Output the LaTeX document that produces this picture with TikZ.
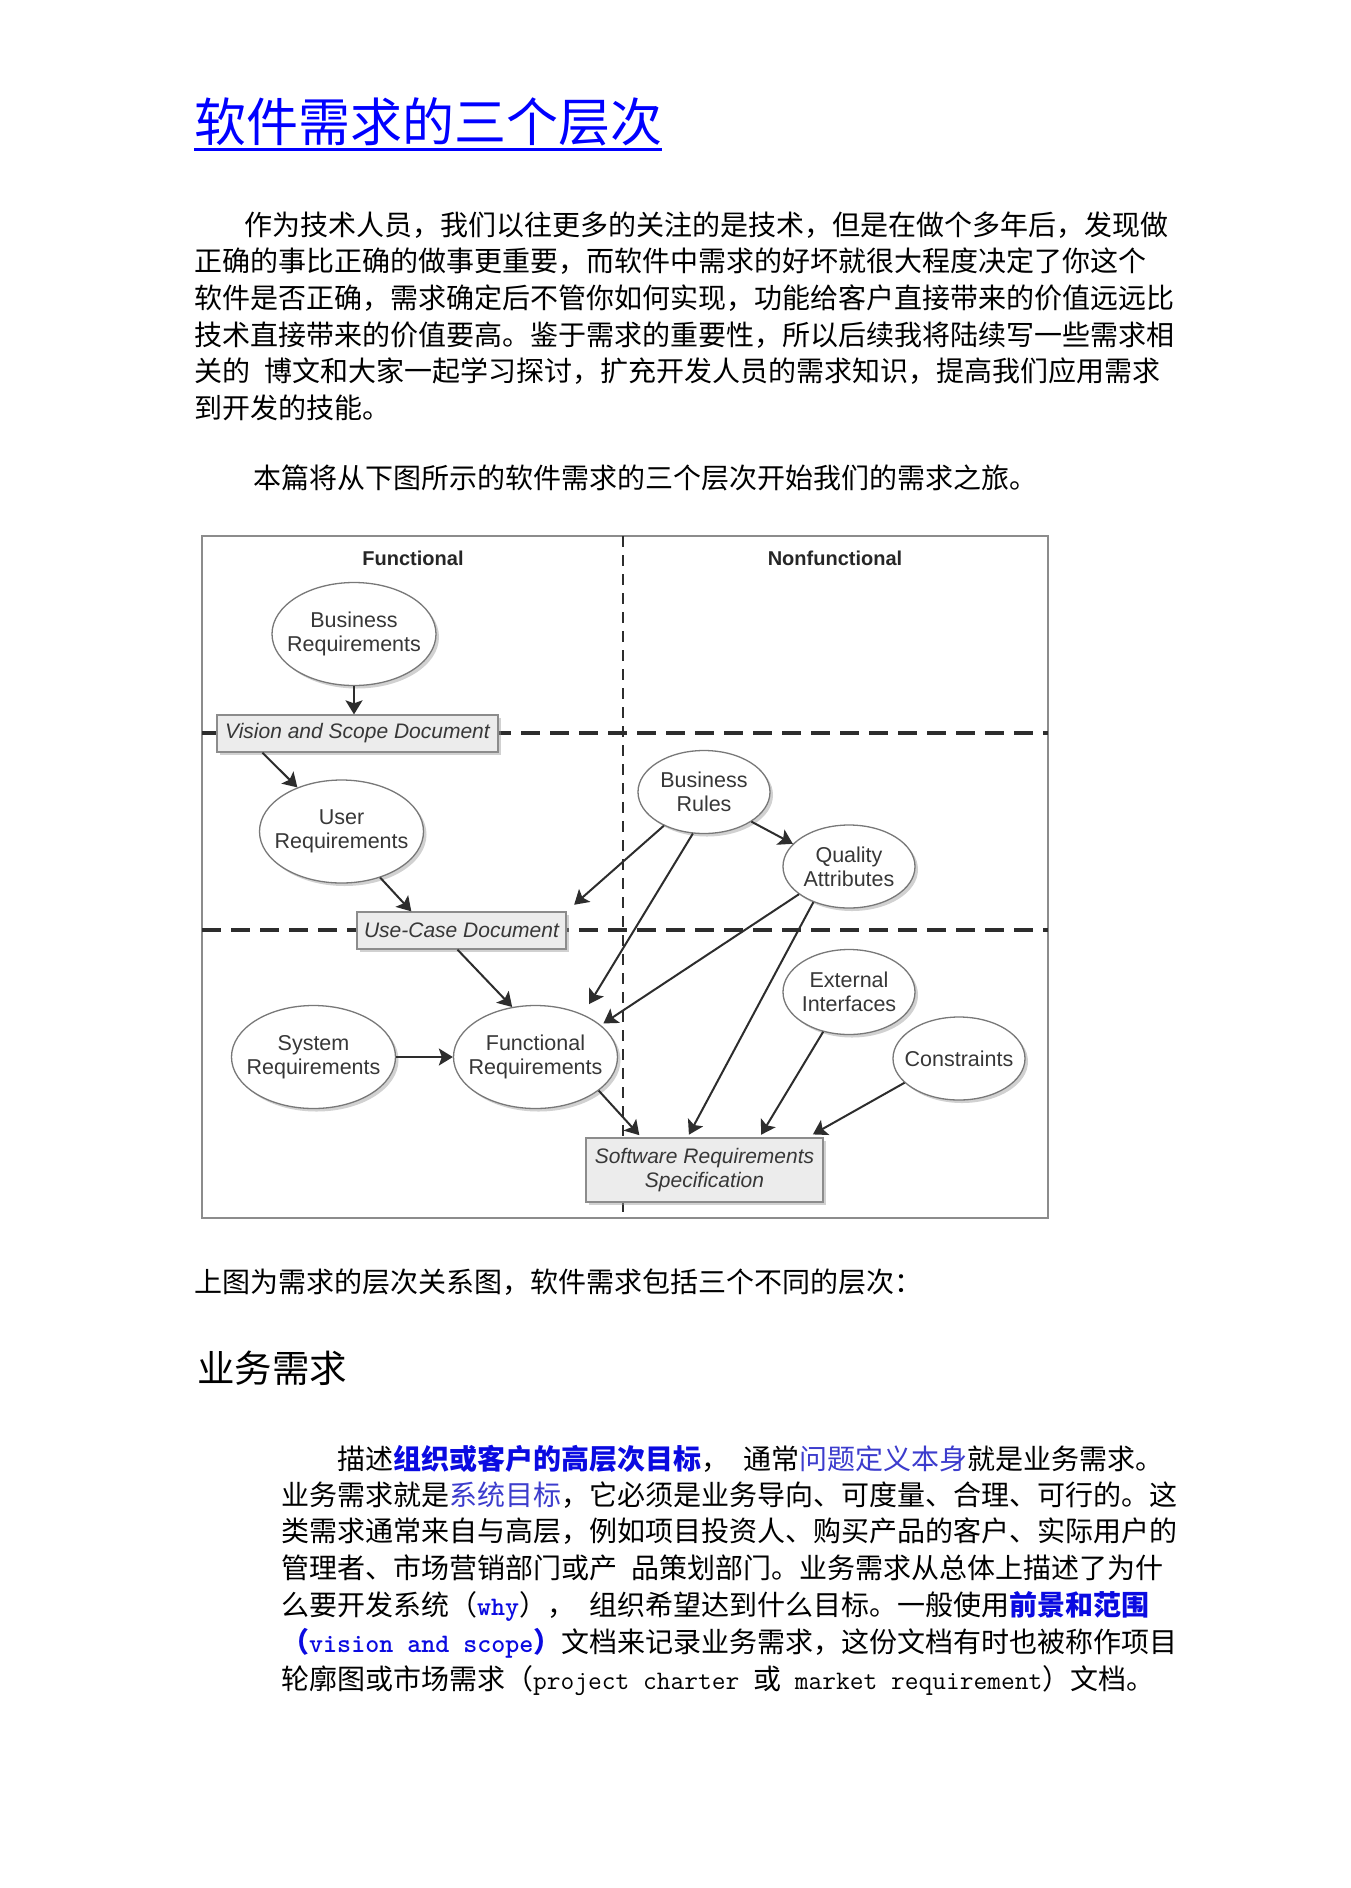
\documentclass[tikz,border=0pt]{standalone}
\usepackage{fontspec}
\usepackage{xcolor}
\usetikzlibrary{positioning,shapes.geometric,arrows.meta,shadows}
\newfontfamily\cjk{Noto Sans CJK SC}
\newfontfamily\diag{Liberation Sans}
\definecolor{titleblue}{RGB}{0,0,255}
\definecolor{linkblue}{RGB}{10,10,225}
\definecolor{softblue}{RGB}{60,60,205}
\definecolor{framegray}{RGB}{140,140,140}
\definecolor{ringgray}{RGB}{120,120,120}
\definecolor{inkgray}{RGB}{55,55,55}
\definecolor{boxfill}{RGB}{236,236,236}
\definecolor{dashgray}{RGB}{45,45,45}
\newcommand\lnk[1]{{\color{linkblue}\bfseries #1}}
\newcommand\lnksoft[1]{{\color{softblue}#1}}
\newcommand\mono[1]{{\ttfamily\fontsize{26.7}{36}\selectfont #1}}

\begin{document}
\begin{tikzpicture}[x=1pt,y=-1pt,
>={Stealth[length=14pt,width=17pt,inset=3pt]},
txt/.style={anchor=west,inner sep=0pt,text height=24.6pt,text depth=3.4pt,font=\cjk\fontsize{28}{36}\selectfont},
req/.style={ellipse,draw=ringgray,line width=1.3pt,fill=white,inner xsep=-15pt,inner ysep=0pt,align=center,
  text=inkgray,font=\diag\fontsize{21.5}{24}\selectfont,
  drop shadow={shadow xshift=3pt,shadow yshift=-3pt,fill=black!40,opacity=.45}},
bigreq/.style={req,minimum width=164pt,minimum height=103pt},
smallreq/.style={req,minimum width=132pt,minimum height=83pt},
doc/.style={rectangle,draw=framegray,line width=1.3pt,fill=boxfill,inner sep=0pt,align=center,
  text=inkgray,font=\diag\itshape\fontsize{21}{24}\selectfont,
  drop shadow={shadow xshift=3pt,shadow yshift=-3pt,fill=black!40,opacity=.45}},
side/.style={font=\diag\bfseries\fontsize{20}{24}\selectfont,text=black!85},
flow/.style={->,line width=2pt,draw=dashgray},
layer/.style={draw=dashgray,line width=4pt,dash pattern=on 19pt off 10pt},
split/.style={draw=dashgray,line width=1.5pt,dash pattern=on 11pt off 8pt}
]
\fill[white] (0,0) rectangle (1350,1888);
\useasboundingbox (0,0) rectangle (1350,1888);

% Title
\node[anchor=west,inner sep=0pt,text height=45.8pt,text depth=6.2pt,
  font=\cjk\fontsize{52}{60}\selectfont,text=titleblue] (title) at (194,122) {软件需求的三个层次};
\draw[titleblue,line width=3.5pt] ([yshift=-1.5pt]title.south west) -- ([yshift=-1.5pt]title.south east);

% Intro text
\node[txt] (p1) at (244,225) {作为技术人员，我们以往更多的关注的是技术，但是在做个多年后，发现做};
\node[txt] (p2) at (194,261) {正确的事比正确的做事更重要，而软件中需求的好坏就很大程度决定了你这个};
\node[txt] (p3) at (194,298) {软件是否正确，需求确定后不管你如何实现，功能给客户直接带来的价值远远比};
\node[txt] (p4) at (194,335) {技术直接带来的价值要高。鉴于需求的重要性，所以后续我将陆续写一些需求相};
\node[txt] (p5) at (194,371) {关的\hspace{14pt}博文和大家一起学习探讨，扩充开发人员的需求知识，提高我们应用需求};
\node[txt] (p6) at (194,408) {到开发的技能。};
\node[txt] (p7) at (253,478) {本篇将从下图所示的软件需求的三个层次开始我们的需求之旅。};

% Frame and layers
\draw[framegray,line width=2pt] (202,536) rectangle (1048,1218);
\draw[split] (623,536) -- (623,1218);
\draw[layer] (202,733) -- (1048,733);
\draw[layer] (202,930) -- (1048,930);
\node[side] (fun) at (413,558) {Functional};
\node[side] (nonfun) at (835,558) {Nonfunctional};

% Nodes
\node[bigreq] (BR) at (354,634) {Business\\Requirements};
\node[doc,minimum width=281pt,minimum height=37pt] (VSD) at (357.5,733.5) {Vision and Scope Document};
\node[bigreq] (UR) at (341.5,831.5) {User\\Requirements};
\node[doc,minimum width=209pt,minimum height=37pt] (UC) at (461.5,930.5) {Use-Case Document};
\node[smallreq] (BRules) at (704,792) {Business\\Rules};
\node[smallreq] (QA) at (849,866.5) {Quality\\Attributes};
\node[bigreq] (SysR) at (313.5,1057) {System\\Requirements};
\node[bigreq] (FR) at (535.5,1057) {Functional\\Requirements};
\node[smallreq,minimum height=85pt] (EI) at (849,992) {External\\Interfaces};
\node[smallreq] (Cons) at (959,1058.5) {Constraints};
\node[doc,minimum width=237pt,minimum height=64pt] (SRS) at (704.5,1170) {Software Requirements\\Specification};

% Edges
\path[every edge/.append style={flow}]
(BR.south) edge (BR.south |- VSD.north)
([xshift=46pt]VSD.south west) edge (UR.135)
(UR.-50) edge ([xshift=55pt]UC.north west)
([xshift=-4pt]UC.south) edge (FR.115)
(SysR.east) edge (FR.west)
(BRules.220) edge[shorten >=10pt] (UC.north east)
(BRules.255) edge[shorten >=12pt] (FR.42)
(BRules.-32) edge (QA.158)
(QA.209) edge[shorten >=3pt] (FR.26)
(QA.225) edge[shorten >=3pt] ([xshift=-17pt]SRS.north)
(EI.237) edge[shorten >=3pt] ([xshift=55pt]SRS.north)
(Cons.204) edge[shorten >=6pt] ([xshift=-16pt]SRS.north east)
(FR.-28) edge[shorten >=3pt] ([xshift=56pt]SRS.north west);

% Text after the figure
\node[txt] (cap) at (194,1282) {上图为需求的层次关系图，软件需求包括三个不同的层次：};
\node[anchor=west,inner sep=0pt,text height=33pt,text depth=4.5pt,
  font=\cjk\fontsize{37.5}{44}\selectfont] (head) at (197,1368) {业务需求};
\node[txt] (q1) at (337,1459) {描述\lnk{组织或客户的高层次目标}，\hspace{14pt}通常\lnksoft{问题定义本身}就是业务需求。};
\node[txt] (q2) at (281,1495) {业务需求就是\lnksoft{系统目标}，它必须是业务导向、可度量、合理、可行的。这};
\node[txt] (q3) at (281,1531) {类需求通常来自与高层，例如项目投资人、购买产品的客户、实际用户的};
\node[txt] (q4) at (281,1568) {管理者、市场营销部门或产\hspace{14pt}品策划部门。业务需求从总体上描述了为什};
\node[txt] (q5) at (281,1605) {么要开发系统（\lnk{\mono{why}}），\hspace{14pt}组织希望达到什么目标。一般使用\lnk{前景和范围}};
\node[txt] (q6) at (281,1642) {\lnk{（\mono{vision\ and\ scope}）}文档来记录业务需求，这份文档有时也被称作项目};
\node[txt] (q7) at (281,1679) {轮廓图或市场需求（\mono{project\ charter\ }或\mono{\ market\ requirement}）文档。};
\end{tikzpicture}
\end{document}
